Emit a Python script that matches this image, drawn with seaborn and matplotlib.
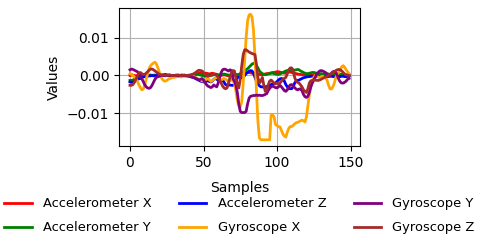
import numpy as np
import pandas as pd
import matplotlib
matplotlib.use("Agg")
import matplotlib.pyplot as plt
import seaborn as sns

# values in units of 1e-3
accel_x = [0.0, 0.1, 0.1, 0.0, -0.1, 0.0, 0.1, 0.0, 0.0, 0.0,
           0.0, 0.1, 0.0, 0.0, 0.1, 0.0, 0.0, 0.0, 0.1, 0.0,
           0.0, 0.0, 0.1, 0.1, 0.0, 0.0, 0.0, 0.1, 0.0, 0.0,
           0.0, 0.0, 0.1, 0.0, 0.0, 0.1, 0.1, 0.0, 0.0, 0.0,
           0.1, 0.1, 0.2, 0.3, 0.3, 0.4, 0.5, 0.6, 0.6, 0.5,
           0.5, 0.6, 0.6, 0.5, 0.4, 0.5, 0.6, 0.5, 0.4, 0.3,
           0.2, 0.1, 0.0, 0.1, 0.2, 0.1, 0.0, -0.1, 0.0, 0.1,
           0.2, 0.1, 0.0, 0.1, 0.2, 0.3, 0.4, 0.5, 0.6, 0.7,
           0.8, 0.8, 0.7, 0.6, 0.5, 0.5, 0.4, 0.3, 0.3, 0.2,
           0.2, 0.3, 0.4, 0.5, 0.5, 0.6, 0.7, 0.8, 0.8, 0.9,
           1.0, 1.0, 0.9, 0.8, 0.7, 0.6, 0.7, 0.8, 0.9, 0.9,
           0.8, 0.7, 0.6, 0.5, 0.4, 0.3, 0.3, 0.2, 0.2, 0.2,
           0.1, 0.1, 0.2, 0.2, 0.1, 0.1, 0.1, 0.2, 0.2, 0.1,
           0.1, 0.2, 0.2, 0.1, 0.1, 0.0, 0.1, 0.1, 0.2, 0.2,
           0.1, 0.1, 0.0, 0.0, 0.1, 0.1, 0.0, 0.0, 0.1, 0.0]

accel_y = [-1.3, -1.3, -1.2, -1.0, -0.8, -0.5, -0.3, -0.2, -0.1, 0.0,
           0.1, 0.2, 0.2, 0.1, 0.1, 0.0, 0.1, 0.1, 0.0, 0.0,
           0.0, 0.1, 0.0, 0.0, 0.1, 0.0, 0.0, 0.1, 0.0, 0.0,
           0.0, 0.0, 0.0, 0.1, 0.0, 0.0, 0.0, 0.1, 0.0, 0.0,
           0.0, 0.0, 0.1, 0.1, 0.2, 0.2, 0.3, 0.2, 0.1, 0.0,
           -0.1, -0.2, -0.2, -0.1, 0.0, 0.1, 0.1, 0.2, 0.2, 0.1,
           0.0, 0.1, 0.2, 0.3, 0.4, 0.3, 0.2, 0.1, 0.0, 0.0,
           0.0, 0.2, 0.3, 0.2, 0.3, 0.5, 0.8, 1.0, 1.2, 1.5,
           1.8, 2.2, 2.6, 3.0, 3.2, 3.0, 2.6, 2.0, 1.2, 0.8,
           0.5, 0.3, 0.2, 0.3, 0.4, 0.5, 0.6, 0.6, 0.5, 0.4,
           0.3, 0.3, 0.4, 0.6, 0.8, 1.0, 1.2, 1.3, 1.4, 1.5,
           1.6, 1.5, 1.4, 1.5, 1.6, 1.5, 1.2, 1.0, 0.8, 0.6,
           0.5, 0.5, 0.6, 0.7, 0.8, 0.8, 0.7, 0.6, 0.5, 0.5,
           0.5, 0.4, 0.4, 0.5, 0.5, 0.4, 0.3, 0.3, 0.4, 0.4,
           0.5, 0.5, 0.4, 0.3, 0.3, 0.2, 0.2, 0.1, 0.1, 0.0]

accel_z = [-1.7, -1.8, -1.8, -1.6, -1.3, -1.0, -0.9, -0.8, -0.6, -0.4,
           -0.3, -0.2, -0.2, -0.1, -0.1, 0.0, -0.1, -0.1, 0.0, 0.0,
           -0.1, -0.1, 0.0, 0.0, -0.1, 0.0, 0.0, -0.1, 0.0, 0.0,
           0.0, -0.1, 0.0, 0.0, 0.0, -0.1, 0.0, 0.0, -0.1, -0.1,
           -0.2, -0.3, -0.4, -0.5, -0.7, -0.9, -1.1, -1.3, -1.5, -1.6,
           -1.7, -1.7, -1.5, -1.4, -1.6, -1.7, -1.5, -1.0, -0.8, -1.0,
           -1.3, -1.5, -1.4, -1.2, -1.8, -2.4, -2.6, -2.6, -2.5, -2.6,
           -2.6, -2.4, -1.8, -0.6, -0.4, -0.5, -0.6, -0.4, 0.0, 0.5,
           0.8, 1.1, 1.3, 1.2, 0.6, -0.5, -1.5, -2.2, -2.7, -3.0,
           -3.0, -3.1, -3.0, -2.9, -3.0, -2.7, -2.4, -2.2, -2.2, -2.0,
           -1.6, -1.2, -0.9, -0.8, -0.9, -1.5, -2.4, -3.0, -3.4, -3.5,
           -3.5, -3.0, -2.0, -1.5, -1.3, -1.2, -1.0, -0.8, -0.6, -0.5,
           -0.4, -0.3, -0.3, -0.2, -0.2, -0.3, -0.3, -0.2, -0.2, -0.3,
           -0.3, -0.2, -0.2, -0.3, -0.3, -0.2, -0.2, -0.2, -0.3, -0.3,
           -0.2, -0.2, -0.3, -0.3, -0.2, -0.2, -0.3, -0.3, -0.2, -0.3]

gyro_x = [0.5, 0.3, 0.0, -0.4, -0.8, -1.5, -2.4, -3.2, -3.8, -3.6,
          -2.5, -1.0, 0.5, 1.8, 2.6, 3.0, 3.3, 3.5, 3.0, 2.0,
          0.8, -0.3, -1.0, -1.4, -1.5, -1.3, -1.0, -0.8, -0.7, -0.5,
          -0.5, -0.4, -0.3, -0.2, -0.3, -0.4, -0.2, 0.0, -0.2, -0.3,
          -0.2, -0.1, 0.0, -0.2, -0.4, -0.6, -0.8, -1.0, -1.2, -1.4,
          -1.5, -1.3, -1.0, -0.8, -1.2, -1.6, -1.4, -1.0, -0.7, -0.5,
          -0.6, -0.9, -1.2, -1.0, -0.8, -1.0, -1.3, -1.5, -1.4, -1.2,
          -1.2, -2.0, -4.0, -6.5, -8.0, -8.3, -7.0, -2.0, 4.0, 10.0,
          14.5, 16.0, 16.2, 15.5, 12.0, 5.0, -4.0, -12.0, -16.5, -17.0,
          -17.0, -17.0, -17.0, -17.0, -17.0, -17.0, -10.5, -10.4, -11.0, -13.0,
          -13.2, -13.5, -13.6, -14.5, -15.5, -16.0, -16.3, -15.0, -14.0, -13.5,
          -13.5, -13.2, -12.8, -12.5, -12.4, -12.2, -12.0, -11.8, -12.0, -12.3,
          -11.0, -8.0, -5.0, -3.0, -1.5, -0.5, 0.0, -0.2, -0.4, -0.5,
          -0.3, -0.2, -0.4, -0.6, -1.2, -2.5, -3.5, -3.6, -3.0, -2.0,
          -0.5, 0.3, 0.8, 1.5, 2.3, 2.6, 2.2, 1.5, 1.0, 0.5]

gyro_y = [1.5, 1.7, 1.6, 1.4, 1.2, 1.0, 0.6, 0.0, -0.8, -1.6,
          -2.4, -3.0, -3.3, -3.4, -3.2, -2.6, -1.8, -1.0, -0.5, -0.3,
          -0.2, 0.0, 0.1, 0.2, 0.3, 0.2, 0.1, 0.1, 0.0, 0.0,
          0.0, 0.1, 0.0, -0.1, 0.0, 0.1, 0.0, -0.1, 0.0, -0.1,
          -0.2, -0.3, -0.4, -0.5, -0.6, -0.8, -1.0, -1.2, -1.0, -0.8,
          -1.2, -1.8, -2.4, -2.8, -3.0, -3.2, -3.0, -2.5, -2.8, -3.0,
          -2.0, -0.5, 0.8, 1.5, 1.7, 1.6, 1.4, 1.2, 1.5, 1.3,
          -0.8, -1.5, -2.5, -4.5, -7.5, -9.5, -9.8, -9.8, -9.8, -9.5,
          -7.5, -6.0, -5.5, -5.4, -5.3, -5.3, -5.2, -5.3, -5.2, -5.3,
          -5.3, -5.2, -5.0, -4.8, -4.0, -3.4, -3.0, -2.8, -3.0, -3.2,
          -3.3, -3.0, -2.6, -3.0, -3.5, -4.0, -4.2, -3.8, -3.0, -2.5,
          -2.4, -2.8, -3.2, -3.6, -3.8, -3.6, -3.5, -4.0, -5.0, -5.6,
          -5.8, -5.5, -4.5, -3.0, -2.0, -1.2, -0.5, 0.3, 0.8, 1.2,
          1.3, 1.2, 1.0, 0.8, 0.3, -0.3, 0.0, 0.6, 1.0, 1.1,
          0.8, 0.0, -1.0, -1.7, -2.0, -2.0, -1.8, -1.5, -1.0, -0.8]

gyro_z = [-2.6, -2.6, -2.4, -1.8, -1.0, -0.2, 0.6, 0.8, 0.5, 0.2,
          0.3, 0.6, 1.0, 1.4, 1.7, 1.7, 1.5, 1.2, 0.9, 0.6,
          0.3, 0.2, 0.1, 0.1, 0.0, 0.0, 0.1, 0.1, 0.0, 0.0,
          0.0, 0.0, 0.1, 0.1, 0.0, 0.0, 0.0, 0.1, 0.0, 0.0,
          0.0, 0.1, 0.2, 0.4, 0.6, 0.9, 1.2, 1.4, 1.3, 1.2,
          0.8, 0.3, 0.0, -0.2, -0.1, 0.0, 0.2, 0.3, 0.2, 0.0,
          -0.5, -1.2, -2.0, -2.8, -3.3, -3.5, -3.3, -2.0, -0.5, 0.8,
          1.3, 1.2, -0.5, -2.5, -3.3, -1.0, 2.5, 5.5, 6.8, 6.8,
          6.5, 6.2, 6.0, 5.8, 5.7, 5.5, 3.0, -0.5, -2.0, -1.5,
          -0.5, -2.5, -4.2, -4.0, -2.5, -1.5, -1.2, -1.6, -2.0, -2.2,
          -2.0, -2.2, -2.0, -1.5, -1.0, -0.8, -0.5, 0.5, 1.5, 2.0,
          2.0, 1.2, -0.5, -1.5, -1.8, -2.0, -2.5, -3.0, -3.8, -4.2,
          -4.5, -3.5, -2.0, -1.4, -1.3, -1.3, -1.2, -1.3, -1.3, -1.2,
          -1.0, -0.8, -0.6, -0.4, -0.2, 0.0, 0.2, 0.5, 0.8, 1.0,
          1.3, 1.5, 1.6, 1.5, 1.2, 0.8, 0.4, 0.2, 0.1, 0.0]

series_names = ["Accelerometer X", "Accelerometer Y", "Accelerometer Z",
                "Gyroscope X", "Gyroscope Y", "Gyroscope Z"]
series_colors = ["red", "green", "blue", "orange", "purple", "brown"]
series_values = [accel_x, accel_y, accel_z, gyro_x, gyro_y, gyro_z]
UNIT = 1e-3

fig = plt.figure(figsize=(4.8, 2.41), dpi=100)
ax = fig.add_axes([0.248, 0.394, 0.502, 0.573])

for name, color, vals in zip(series_names, series_colors, series_values):
    vals = np.asarray(vals) * UNIT
    samples = np.arange(len(vals))
    sns.lineplot(x=samples, y=vals, color=color, label=name, linewidth=2, ax=ax)

ax.grid(True, color="#b0b0b0", linewidth=0.8)
ax.set_axisbelow(True)
ax.set_xticks([0, 50, 100, 150])
ax.set_yticks([-0.01, 0.0, 0.01])
ax.set_xlabel("Samples", labelpad=8)
ax.set_ylabel("Values")
ax.legend(loc="upper center", bbox_to_anchor=(0.5, -0.285), ncol=3, frameon=False,
          fontsize=9.4, handlelength=2.1, handletextpad=0.85, columnspacing=2.1,
          labelspacing=0.85)

fig.savefig("out.png", dpi=100)
